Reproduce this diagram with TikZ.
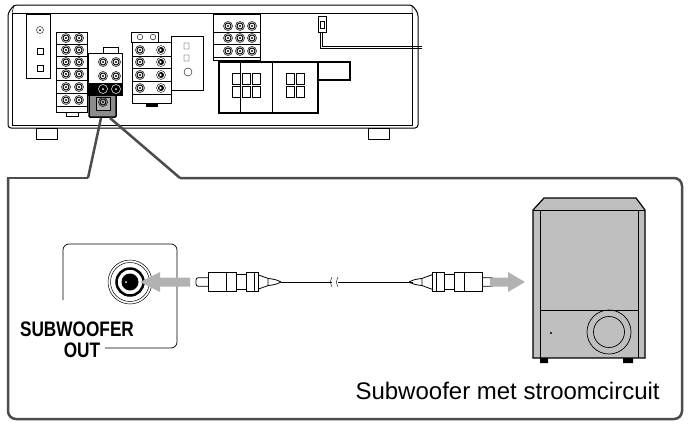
\documentclass[tikz,border=0pt]{standalone}
\usepackage{fontspec}
\setmainfont{Liberation Sans}
\begin{document}
\begin{tikzpicture}[x=1pt,y=-1pt,
  jk/.style={draw,line width=0.5pt},
  box/.style={draw,line width=0.7pt,fill=white},
  gar/.style={draw=none,fill=black!30},
  lab/.style={font=\bfseries\fontsize{21}{21}\selectfont,xscale=0.82}]
\useasboundingbox (0,0) rectangle (690,426);
\tikzset{jack/.pic={\draw[line width=0.5pt] (0,0) circle (4.5);\draw[line width=0.9pt] (0,0) circle (3);\fill (0,0) circle (1.2);}}
% receiver
\draw[line width=1pt,rounded corners=3] (8,13) -- (14,5) -- (412,5) -- (418,13) -- (418,128) -- (8,128) -- cycle;
\draw[line width=0.5pt] (12,13) -- (412,13) -- (412,125) -- (12,125) -- cycle;
\draw[line width=0.5pt] (12,13)--(14,5) (412,13)--(412,5);
\foreach \x in {36,368}{\draw[line width=0.7pt] (\x,128) rectangle ++(21,11);}
\draw[box] (26,14) rectangle (50,78);
\draw (40,30) circle (3.5); \fill (40,30) circle (1);
\draw (37,48) rectangle (43,54); \draw (37,65) rectangle (43,71);
\draw[box] (56,32) rectangle (87,112);
\foreach \y in {38,50,62,74,87,100}{\draw (56,\y+6) -- (87,\y+6); \pic at (66,\y) {jack}; \pic at (79,\y) {jack};}
\draw (66,112) rectangle (78,116);
\draw[box] (103,47) rectangle (118,53);
\draw[box] (88,53) rectangle (122,95);
\fill (88,83) rectangle (122,95);
\foreach \y in {62,76}{\pic at (103,\y) {jack}; \pic at (116,\y) {jack};}
\draw[white,line width=0.5pt] (103,89) circle (4.5) (116,89) circle (4.5); \fill[white] (103,89) circle (1) (116,89) circle (1);
\draw[line width=1.5pt,fill=black!45,rounded corners=1] (89,95) rectangle (116,117);
\draw[fill=black!30] (96,97) rectangle (110,110); \pic at (103,102) {jack};
\draw[box] (131,32) rectangle (158,42);
\draw (140,37) circle (2.8) (153,37) circle (2.8);
\draw[box] (132,42) rectangle (171,103);
\foreach \y in {50,62,75,88}{\draw (132,\y+6) -- (171,\y+6); \pic at (140,\y) {jack}; \draw (161,\y) circle (4.5); \fill (161,\y) circle (3); \fill[white] (162,\y) -- (159.5,\y-1.8) -- (159.5,\y+1.8) -- cycle;}
\fill (146,103) rectangle (158,107);
\draw[box] (171,36) rectangle (203,90);
\draw (184,43) rectangle (189,49) (184,55) rectangle (189,61) (188,72) circle (4);
\draw[box] (213,14) rectangle (260,60);
\foreach \y in {26,38,51}{\draw (213,\y+6) -- (260,\y+6); \foreach \x in {228,240,252}{\pic at (\x,\y) {jack};}}
\draw[line width=1.2pt,fill=white] (318,62) rectangle (350,80);
\draw[line width=1.2pt,fill=white] (219,62) rectangle (318,113);
\draw[line width=0.8pt] (240,62) -- (240,113) (272,62) -- (272,113);
\foreach \x in {232,242,252,286,296}{\foreach \y in {73,86}{\draw[line width=0.8pt] (\x,\y) rectangle ++(8,11);}}
\draw[line width=0.6pt] (318,16) rectangle (326,32) (320,21) rectangle (324,28);
\draw[line width=0.6pt] (320,32) -- (320,48) -- (422,48) (322,32) -- (322,46) -- (422,46);
% callout
\draw[line width=2.5pt,black!70,rounded corners=8] (8,178) -- (8,419) -- (682,419) -- (682,178) -- (180,178);
\draw[line width=2.5pt,black!70] (8,186) -- (8,178) -- (88,178);
\draw[line width=2.5pt,black!70] (88,178) -- (101,118) (180,178) -- (110,118);
% jack panel
\draw[line width=0.7pt,rounded corners=6] (63,300) -- (63,244) -- (177,244) -- (177,348) -- (105,348);
\draw[line width=0.5pt] (130,282) circle (22) (130,282) circle (19.5);
\draw[line width=2.5pt] (130,282) circle (13.5);
\fill (130,282) circle (8.5);
\fill[white] (126,282) circle (1);
\fill[gar] (190,277.5) -- (160,277.5) -- (160,272) -- (140,282) -- (160,292) -- (160,286.5) -- (190,286.5) -- cycle;
\node[lab] (lbl) at (77,329) {SUBWOOFER};
\node[lab] (lbl2) at (82,350) {OUT};
% cable
\foreach \s/\o in {1/196,-1/494}{
\begin{scope}[shift={(\o,282)},xscale=\s,yscale=1.2,line width=0.8pt]
\draw[rounded corners=2] (12,-3.5) -- (0,-3.5) -- (0,3.5) -- (12,3.5);
\draw (12,-8) rectangle (40,8);
\draw (30,-8) -- (30,8) (40,-6) rectangle (50,6) (50,-8) -- (50,8);
\draw (50,-8) -- (58,-8) (50,8) -- (58,8) (58,-8) rectangle (62,8);
\draw (62,-6) -- (72,-3) -- (72,3) -- (62,6);
\draw (72,-3) .. controls (80,-2) .. (85,0);
\draw (72,3) .. controls (80,2) .. (85,0);
\end{scope}}
\draw[line width=0.8pt] (281,282) -- (332,282) (338,282) -- (413,282);
\draw (332,277) .. controls (330,282) .. (332,287) (338,277) .. controls (336,282) .. (338,287);
\fill[gar] (490,277.5) -- (508,277.5) -- (508,272) -- (525,282) -- (508,292) -- (508,286.5) -- (490,286.5) -- cycle;
% subwoofer
\draw[line width=1.2pt,fill=black!25] (533,210) -- (544,198) -- (636,198) -- (645,210) -- (645,358) -- (533,358) -- cycle;
\draw[line width=0.7pt] (533,210) -- (645,210) (540,210) -- (540,358) (638,210) -- (638,358) (540,310) -- (638,310);
\fill (540,358) rectangle (548,363) (623,358) rectangle (633,363);
\draw[line width=0.7pt] (609,332) circle (22) (609,332) circle (15.5);
\fill (551,333) circle (1.2);
\node[font=\fontsize{24}{24}\selectfont,anchor=west] (cap) at (352,391) {Subwoofer met stroomcircuit};
\end{tikzpicture}
\end{document}
